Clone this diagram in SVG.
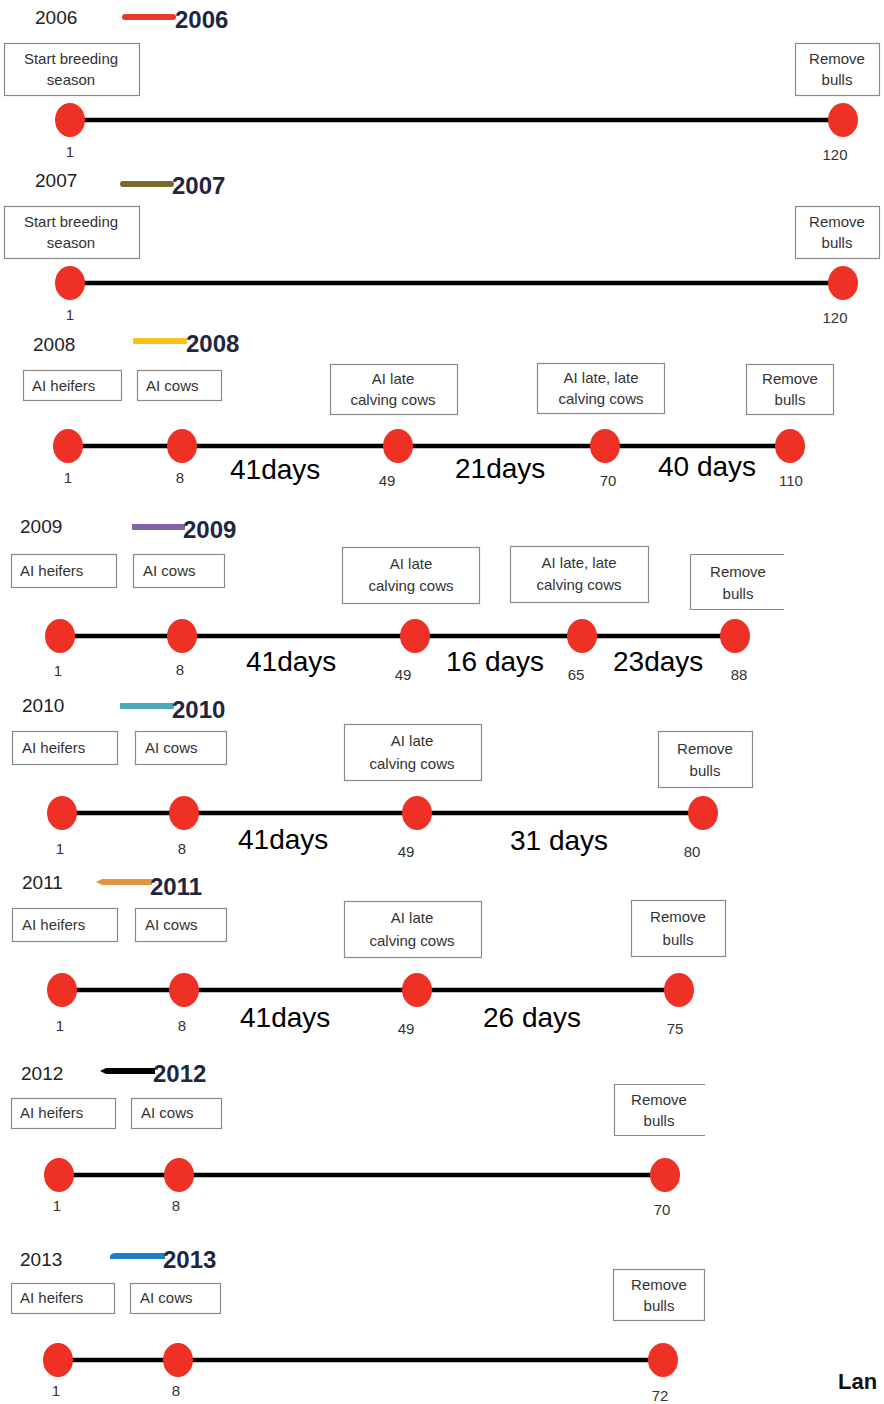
<svg xmlns="http://www.w3.org/2000/svg" width="884" height="1404" viewBox="0 0 884 1404">
<style>
.bg{fill:#ffffff}
.yr{font-family:"Liberation Sans",Arial,sans-serif;font-size:19px;fill:#222}
.yb{font-family:"Liberation Sans",Arial,sans-serif;font-size:24px;font-weight:bold;fill:#1f2640}
.box{fill:#ffffff;stroke:#8a8a8a;stroke-width:1.2}
.open{fill:none;stroke:#8a8a8a;stroke-width:1.2}
.bt{font-family:"Liberation Sans",Arial,sans-serif;font-size:15px;fill:#333}
.c{text-anchor:middle}
.line{stroke:#000;stroke-width:4.5;fill:none}
.dot{fill:#ee3124}
.num{font-family:"Liberation Sans",Arial,sans-serif;font-size:15px;fill:#333;text-anchor:middle}
.days{font-family:"Liberation Sans",Arial,sans-serif;font-size:28px;fill:#000}
.lan{font-family:"Liberation Sans",Arial,sans-serif;font-size:22px;font-weight:bold;fill:#111}
</style>
<rect class="bg" x="0" y="0" width="884" height="1404"/>

<!-- Year headers and legends -->
<g id="legend-2006"><text class="yr" x="35" y="24">2006</text><rect x="122" y="14" width="54" height="6" rx="3" fill="#e8392c"/><text class="yb" x="175" y="28">2006</text></g>
<g id="legend-2007"><text class="yr" x="35" y="187">2007</text><rect x="120" y="181" width="54" height="6" rx="3" fill="#7b6a2c"/><text class="yb" x="172" y="194">2007</text></g>
<g id="legend-2008"><text class="yr" x="33" y="351">2008</text><rect x="133" y="338" width="54" height="6" rx="1" fill="#f7c31a"/><text class="yb" x="186" y="352">2008</text></g>
<g id="legend-2009"><text class="yr" x="20" y="533">2009</text><rect x="132" y="524" width="53" height="6" rx="1" fill="#7f62a8"/><text class="yb" x="183" y="538">2009</text></g>
<g id="legend-2010"><text class="yr" x="22" y="712">2010</text><rect x="120" y="703" width="54" height="6" rx="1" fill="#4aa7b7"/><text class="yb" x="172" y="718">2010</text></g>
<g id="legend-2011"><text class="yr" x="22" y="889">2011</text><path d="M96,882 L102,879 L152,879 L152,885 L102,885 Z" fill="#e1953f"/><text class="yb" x="150" y="895">2011</text></g>
<g id="legend-2012"><text class="yr" x="21" y="1080">2012</text><path d="M100,1071 L106,1068 L155,1068 L155,1074 L106,1074 Z" fill="#000"/><text class="yb" x="153" y="1082">2012</text></g>
<g id="legend-2013"><text class="yr" x="20" y="1266">2013</text><path d="M110,1256 Q111,1253 116,1253 L165,1253 L165,1259 L110,1259 Z" fill="#1a7fc2"/><text class="yb" x="163" y="1268">2013</text></g>

<!-- Connectors (timelines) -->
<g id="connectors">
<line class="line" x1="70" y1="120" x2="843" y2="120"/>
<line class="line" x1="70" y1="283" x2="843" y2="283"/>
<line class="line" x1="68" y1="446" x2="790" y2="446"/>
<line class="line" x1="60" y1="636" x2="735" y2="636"/>
<line class="line" x1="62" y1="813" x2="703" y2="813"/>
<line class="line" x1="62" y1="990" x2="679" y2="990"/>
<line class="line" x1="59" y1="1175" x2="665" y2="1175"/>
<line class="line" x1="58" y1="1360" x2="663" y2="1360"/>
<text class="days" x="230" y="479">41days</text>
<text class="days" x="455" y="478">21days</text>
<text class="days" x="658" y="476">40 days</text>
<text class="days" x="246" y="671">41days</text>
<text class="days" x="446" y="671">16 days</text>
<text class="days" x="613" y="671">23days</text>
<text class="days" x="238" y="849">41days</text>
<text class="days" x="510" y="850">31 days</text>
<text class="days" x="240" y="1027">41days</text>
<text class="days" x="483" y="1027">26 days</text>
</g>

<!-- 2006 -->
<g id="box-2006-start"><rect class="box" x="4.5" y="43.5" width="135" height="52"/><text class="bt c" x="71" y="64">Start breeding</text><text class="bt c" x="71" y="85">season</text></g>
<g id="box-2006-remove"><rect class="box" x="795.5" y="43.5" width="84" height="52"/><text class="bt c" x="837" y="64">Remove</text><text class="bt c" x="837" y="85">bulls</text></g>
<g id="dot-2006-1"><ellipse class="dot" cx="70" cy="120" rx="15" ry="17"/><text class="num" x="70" y="157">1</text></g>
<g id="dot-2006-120"><ellipse class="dot" cx="843" cy="120" rx="15" ry="17"/><text class="num" x="835" y="160">120</text></g>

<!-- 2007 -->
<g id="box-2007-start"><rect class="box" x="4.5" y="206.5" width="135" height="52"/><text class="bt c" x="71" y="227">Start breeding</text><text class="bt c" x="71" y="248">season</text></g>
<g id="box-2007-remove"><rect class="box" x="795.5" y="206.5" width="84" height="52"/><text class="bt c" x="837" y="227">Remove</text><text class="bt c" x="837" y="248">bulls</text></g>
<g id="dot-2007-1"><ellipse class="dot" cx="70" cy="283" rx="15" ry="17"/><text class="num" x="70" y="320">1</text></g>
<g id="dot-2007-120"><ellipse class="dot" cx="843" cy="283" rx="15" ry="17"/><text class="num" x="835" y="323">120</text></g>

<!-- 2008 -->
<g id="box-2008-heifers"><rect class="box" x="23.5" y="370.5" width="98" height="30"/><text class="bt" x="32" y="391">AI heifers</text></g>
<g id="box-2008-cows"><rect class="box" x="137.5" y="370.5" width="84" height="30"/><text class="bt" x="146" y="391">AI cows</text></g>
<g id="box-2008-late"><rect class="box" x="330.5" y="364.5" width="127" height="50"/><text class="bt c" x="393" y="384">AI late</text><text class="bt c" x="393" y="405">calving cows</text></g>
<g id="box-2008-latelate"><rect class="box" x="537.5" y="363.5" width="127" height="50"/><text class="bt c" x="601" y="383">AI late, late</text><text class="bt c" x="601" y="404">calving cows</text></g>
<g id="box-2008-remove"><rect class="box" x="746.5" y="364.5" width="87" height="50"/><text class="bt c" x="790" y="384">Remove</text><text class="bt c" x="790" y="405">bulls</text></g>
<g id="dot-2008-1"><ellipse class="dot" cx="68" cy="446" rx="15" ry="17"/><text class="num" x="68" y="483">1</text></g>
<g id="dot-2008-8"><ellipse class="dot" cx="182" cy="446" rx="15" ry="17"/><text class="num" x="180" y="483">8</text></g>
<g id="dot-2008-49"><ellipse class="dot" cx="398" cy="446" rx="15" ry="17"/><text class="num" x="387" y="486">49</text></g>
<g id="dot-2008-70"><ellipse class="dot" cx="605" cy="446" rx="15" ry="17"/><text class="num" x="608" y="486">70</text></g>
<g id="dot-2008-110"><ellipse class="dot" cx="790" cy="446" rx="15" ry="17"/><text class="num" x="791" y="486">110</text></g>

<!-- 2009 -->
<g id="box-2009-heifers"><rect class="box" x="11.5" y="554.5" width="105" height="33"/><text class="bt" x="20" y="576">AI heifers</text></g>
<g id="box-2009-cows"><rect class="box" x="133.5" y="554.5" width="91" height="33"/><text class="bt" x="143" y="576">AI cows</text></g>
<g id="box-2009-late"><rect class="box" x="342.5" y="547.5" width="137" height="56"/><text class="bt c" x="411" y="569">AI late</text><text class="bt c" x="411" y="591">calving cows</text></g>
<g id="box-2009-latelate"><rect class="box" x="510.5" y="546.5" width="138" height="56"/><text class="bt c" x="579" y="568">AI late, late</text><text class="bt c" x="579" y="590">calving cows</text></g>
<g id="box-2009-remove"><path class="open" d="M784,554.5 H690.5 V609.5 H784"/><text class="bt c" x="738" y="577">Remove</text><text class="bt c" x="738" y="599">bulls</text></g>
<g id="dot-2009-1"><ellipse class="dot" cx="60" cy="636" rx="15" ry="17"/><text class="num" x="58" y="676">1</text></g>
<g id="dot-2009-8"><ellipse class="dot" cx="182" cy="636" rx="15" ry="17"/><text class="num" x="180" y="675">8</text></g>
<g id="dot-2009-49"><ellipse class="dot" cx="415" cy="636" rx="15" ry="17"/><text class="num" x="403" y="680">49</text></g>
<g id="dot-2009-65"><ellipse class="dot" cx="582" cy="636" rx="15" ry="17"/><text class="num" x="576" y="680">65</text></g>
<g id="dot-2009-88"><ellipse class="dot" cx="735" cy="636" rx="15" ry="17"/><text class="num" x="739" y="680">88</text></g>

<!-- 2010 -->
<g id="box-2010-heifers"><rect class="box" x="12.5" y="731.5" width="105" height="33"/><text class="bt" x="22" y="753">AI heifers</text></g>
<g id="box-2010-cows"><rect class="box" x="135.5" y="731.5" width="91" height="33"/><text class="bt" x="145" y="753">AI cows</text></g>
<g id="box-2010-late"><rect class="box" x="344.5" y="724.5" width="137" height="56"/><text class="bt c" x="412" y="746">AI late</text><text class="bt c" x="412" y="769">calving cows</text></g>
<g id="box-2010-remove"><rect class="box" x="658.5" y="731.5" width="94" height="56"/><text class="bt c" x="705" y="754">Remove</text><text class="bt c" x="705" y="776">bulls</text></g>
<g id="dot-2010-1"><ellipse class="dot" cx="62" cy="813" rx="15" ry="17"/><text class="num" x="60" y="854">1</text></g>
<g id="dot-2010-8"><ellipse class="dot" cx="184" cy="813" rx="15" ry="17"/><text class="num" x="182" y="854">8</text></g>
<g id="dot-2010-49"><ellipse class="dot" cx="417" cy="813" rx="15" ry="17"/><text class="num" x="406" y="857">49</text></g>
<g id="dot-2010-80"><ellipse class="dot" cx="703" cy="813" rx="15" ry="17"/><text class="num" x="692" y="857">80</text></g>

<!-- 2011 -->
<g id="box-2011-heifers"><rect class="box" x="12.5" y="908.5" width="105" height="33"/><text class="bt" x="22" y="930">AI heifers</text></g>
<g id="box-2011-cows"><rect class="box" x="135.5" y="908.5" width="91" height="33"/><text class="bt" x="145" y="930">AI cows</text></g>
<g id="box-2011-late"><rect class="box" x="344.5" y="901.5" width="137" height="56"/><text class="bt c" x="412" y="923">AI late</text><text class="bt c" x="412" y="946">calving cows</text></g>
<g id="box-2011-remove"><rect class="box" x="631.5" y="900.5" width="94" height="56"/><text class="bt c" x="678" y="922">Remove</text><text class="bt c" x="678" y="945">bulls</text></g>
<g id="dot-2011-1"><ellipse class="dot" cx="62" cy="990" rx="15" ry="17"/><text class="num" x="60" y="1031">1</text></g>
<g id="dot-2011-8"><ellipse class="dot" cx="184" cy="990" rx="15" ry="17"/><text class="num" x="182" y="1031">8</text></g>
<g id="dot-2011-49"><ellipse class="dot" cx="417" cy="990" rx="15" ry="17"/><text class="num" x="406" y="1034">49</text></g>
<g id="dot-2011-75"><ellipse class="dot" cx="679" cy="990" rx="15" ry="17"/><text class="num" x="675" y="1034">75</text></g>

<!-- 2012 -->
<g id="box-2012-heifers"><rect class="box" x="11.5" y="1098.5" width="104" height="30"/><text class="bt" x="20" y="1118">AI heifers</text></g>
<g id="box-2012-cows"><rect class="box" x="131.5" y="1098.5" width="90" height="30"/><text class="bt" x="141" y="1118">AI cows</text></g>
<g id="box-2012-remove"><path class="open" d="M705,1084.5 H614.5 V1135.5 H705"/><text class="bt c" x="659" y="1105">Remove</text><text class="bt c" x="659" y="1126">bulls</text></g>
<g id="dot-2012-1"><ellipse class="dot" cx="59" cy="1175" rx="15" ry="17"/><text class="num" x="57" y="1211">1</text></g>
<g id="dot-2012-8"><ellipse class="dot" cx="179" cy="1175" rx="15" ry="17"/><text class="num" x="176" y="1211">8</text></g>
<g id="dot-2012-70"><ellipse class="dot" cx="665" cy="1175" rx="15" ry="17"/><text class="num" x="662" y="1215">70</text></g>

<!-- 2013 -->
<g id="box-2013-heifers"><rect class="box" x="11.5" y="1283.5" width="103" height="30"/><text class="bt" x="20" y="1303">AI heifers</text></g>
<g id="box-2013-cows"><rect class="box" x="130.5" y="1283.5" width="90" height="30"/><text class="bt" x="140" y="1303">AI cows</text></g>
<g id="box-2013-remove"><rect class="box" x="613.5" y="1269.5" width="91" height="51"/><text class="bt c" x="659" y="1290">Remove</text><text class="bt c" x="659" y="1311">bulls</text></g>
<g id="dot-2013-1"><ellipse class="dot" cx="58" cy="1360" rx="15" ry="17"/><text class="num" x="56" y="1396">1</text></g>
<g id="dot-2013-8"><ellipse class="dot" cx="178" cy="1360" rx="15" ry="17"/><text class="num" x="176" y="1396">8</text></g>
<g id="dot-2013-72"><ellipse class="dot" cx="663" cy="1360" rx="15" ry="17"/><text class="num" x="660" y="1401">72</text></g>

<text class="lan" x="838" y="1389">Lan</text>
</svg>
